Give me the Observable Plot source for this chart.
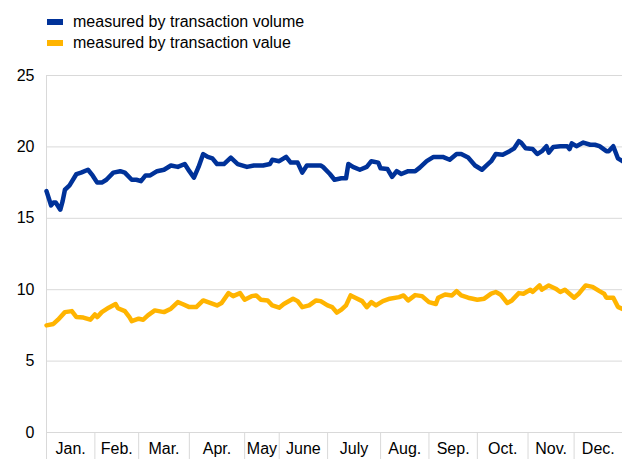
<!DOCTYPE html>
<html>
<head>
<meta charset="utf-8">
<script src="https://cdn.jsdelivr.net/npm/d3@7"></script>
<script src="https://cdn.jsdelivr.net/npm/@observablehq/plot@0.6"></script>
<style>
  html, body { margin: 0; padding: 0; background: #fff; }
  body { width: 622px; height: 459px; overflow: hidden; font-family: "Liberation Sans", Arial, sans-serif; }
  #legend { position: relative; height: 56px; }
  .item { position: absolute; left: 47px; display: flex; align-items: center; font-size: 16px; color: #000; }
  .sw { width: 16px; height: 6px; margin-right: 10px; }
</style>
</head>
<body>
<div id="legend"></div>
<div id="chart"></div>
<script>
// Month labels and number of business days in each month (category axis)
const months = ["Jan.", "Feb.", "Mar.", "Apr.", "May", "June", "July", "Aug.", "Sep.", "Oct.", "Nov.", "Dec."];
const monthDays = [21, 19, 22, 24, 15, 21, 23, 21, 21, 22, 20, 21];
const yTicks = [0, 5, 10, 15, 20, 25];

const seriesNames = ["measured by transaction volume", "measured by transaction value"];
const seriesColors = ["#003299", "#ffb400"];

// Series 1: measured by transaction volume (day index, value)
const volumeDays = [0, 2, 3, 4, 6, 7, 8, 10, 13, 15, 18, 20, 22, 24, 26, 29, 32, 34, 37, 39, 41, 43, 45, 48, 51, 54, 57, 60, 62, 64, 66, 68, 70, 72, 74, 77, 80, 83, 87, 90, 94, 97, 98, 101, 104, 106, 109, 111, 113, 116, 119, 120, 123, 125, 128, 130, 131, 133, 136, 139, 141, 144, 145, 148, 150, 152, 154, 157, 160, 162, 165, 168, 172, 175, 178, 180, 183, 186, 189, 191, 193, 195, 198, 201, 203, 205, 206, 208, 211, 213, 215, 217, 218, 220, 223, 226, 227, 228, 230, 233, 236, 238, 240, 243, 244, 246, 248, 250];
const volumeValues = [16.9, 15.9, 16.1, 16.1, 15.6, 16.2, 17.0, 17.3, 18.1, 18.2, 18.4, 18.0, 17.5, 17.5, 17.7, 18.2, 18.3, 18.2, 17.7, 17.7, 17.6, 18.0, 18.0, 18.3, 18.4, 18.7, 18.6, 18.8, 18.3, 17.85, 18.6, 19.5, 19.3, 19.2, 18.8, 18.8, 19.25, 18.8, 18.6, 18.7, 18.7, 18.8, 19.1, 19.0, 19.3, 18.9, 18.9, 18.2, 18.7, 18.7, 18.7, 18.6, 18.1, 17.7, 17.8, 17.8, 18.8, 18.6, 18.4, 18.6, 19.0, 18.9, 18.5, 18.45, 17.9, 18.3, 18.1, 18.3, 18.3, 18.55, 19.0, 19.3, 19.3, 19.1, 19.5, 19.5, 19.25, 18.7, 18.4, 18.7, 19.0, 19.5, 19.45, 19.7, 19.9, 20.4, 20.3, 19.9, 19.85, 19.5, 19.7, 20.05, 19.6, 20.0, 20.05, 20.05, 19.85, 20.25, 20.05, 20.3, 20.15, 20.15, 20.05, 19.7, 19.7, 20.05, 19.2, 19.0];

// Series 2: measured by transaction value (day index, value)
const valueDays = [0, 3, 5, 8, 11, 13, 16, 19, 21, 22, 24, 27, 30, 31, 34, 36, 37, 40, 42, 44, 47, 51, 54, 57, 59, 62, 65, 68, 71, 74, 76, 79, 81, 84, 86, 89, 91, 93, 96, 98, 101, 103, 107, 109, 111, 114, 117, 119, 122, 124, 126, 128, 130, 132, 134, 137, 139, 141, 143, 146, 149, 153, 155, 157, 160, 163, 166, 169, 170, 173, 176, 178, 180, 183, 187, 190, 193, 195, 197, 200, 202, 205, 207, 210, 211, 214, 215, 218, 221, 223, 225, 227, 229, 231, 234, 237, 240, 242, 243, 246, 248, 250];
const valueValues = [7.5, 7.6, 7.9, 8.43, 8.5, 8.08, 8.05, 7.9, 8.27, 8.08, 8.43, 8.74, 9.0, 8.7, 8.5, 8.08, 7.8, 7.97, 7.9, 8.2, 8.55, 8.43, 8.67, 9.13, 9.0, 8.78, 8.78, 9.25, 9.07, 8.9, 9.07, 9.76, 9.55, 9.76, 9.3, 9.55, 9.6, 9.3, 9.25, 8.9, 8.74, 9.0, 9.37, 9.2, 8.78, 8.9, 9.25, 9.2, 8.9, 8.78, 8.4, 8.6, 8.9, 9.6, 9.44, 9.2, 8.78, 9.13, 8.9, 9.2, 9.37, 9.48, 9.6, 9.25, 9.62, 9.55, 9.13, 9.0, 9.44, 9.67, 9.6, 9.9, 9.6, 9.44, 9.3, 9.37, 9.72, 9.84, 9.67, 9.07, 9.25, 9.76, 9.72, 10.0, 9.84, 10.3, 10.0, 10.3, 10.07, 9.84, 10.0, 9.72, 9.44, 9.72, 10.3, 10.2, 9.9, 9.72, 9.44, 9.44, 8.8, 8.65];

// Derived tables
const boundaries = [0];
monthDays.forEach(d => boundaries.push(boundaries[boundaries.length - 1] + d));
const mids = months.map((m, i) => (boundaries[i] + boundaries[i + 1]) / 2);
const totalDays = boundaries[boundaries.length - 1];

const volumeData = volumeDays.map((d, i) => ({day: d, v: volumeValues[i]}));
const valueData = valueDays.map((d, i) => ({day: d, v: valueValues[i]}));

// Legend
const legend = document.getElementById("legend");
seriesNames.forEach((name, i) => {
  const item = document.createElement("div");
  item.className = "item";
  item.style.top = (i === 0 ? 13 : 34) + "px";
  item.innerHTML = `<span class="sw" style="background:${seriesColors[i]}"></span><span>${name}</span>`;
  legend.appendChild(item);
});

const grid = "#d9d9d9";
const chart = Plot.plot({
  width: 622,
  height: 403,
  marginTop: 19,
  marginBottom: 27,
  marginLeft: 46,
  marginRight: 0,
  style: {fontFamily: '"Liberation Sans", Arial, sans-serif', fontSize: "16px", color: "#000", background: "#fff"},
  x: {domain: [0, totalDays], label: null},
  y: {domain: [0, 25], label: null},
  marks: [
    Plot.gridY(yTicks, {stroke: grid, strokeOpacity: 1, strokeWidth: 1}),
    Plot.ruleX([0], {y1: 0, y2: 25, stroke: grid, strokeWidth: 1}),
    Plot.axisY(yTicks, {tickSize: 0, tickPadding: 12, fontSize: 16, fill: "#000", label: null}),
    Plot.axisX(boundaries, {tickSize: 27, tickFormat: () => "", stroke: grid, strokeOpacity: 1, label: null}),
    Plot.axisX(mids, {tickSize: 0, tickPadding: 10, tickFormat: (d, i) => months[i], fontSize: 16, fill: "#000", label: null}),
    Plot.lineY(volumeData, {x: "day", y: "v", stroke: seriesColors[0], strokeWidth: 4.5, strokeLinejoin: "round", strokeLinecap: "round"}),
    Plot.lineY(valueData, {x: "day", y: "v", stroke: seriesColors[1], strokeWidth: 4.5, strokeLinejoin: "round", strokeLinecap: "round"})
  ]
});
document.getElementById("chart").appendChild(chart);
</script>
</body>
</html>
